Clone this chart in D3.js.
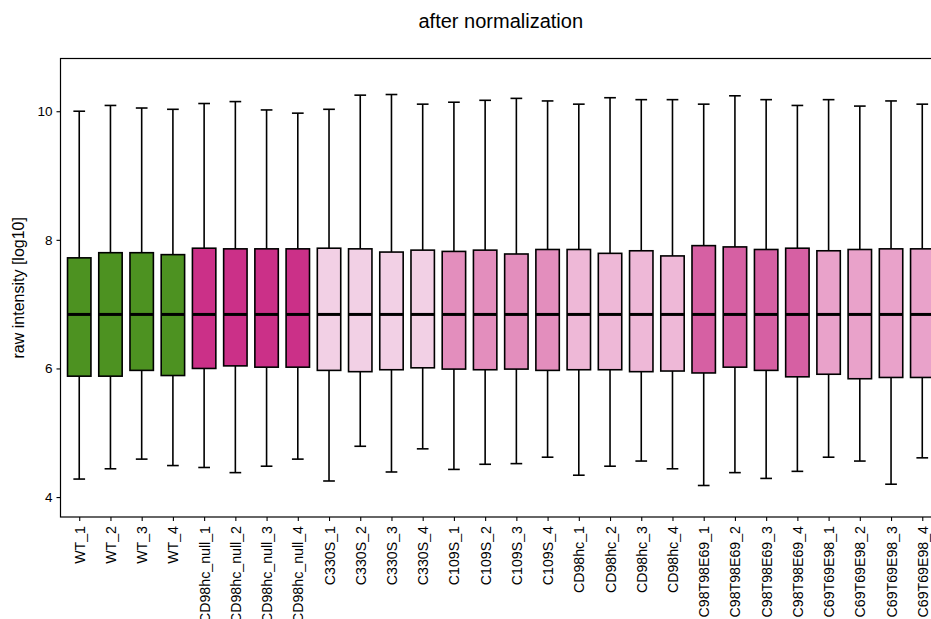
<!DOCTYPE html>
<html>
<head>
<meta charset="utf-8">
<script src="https://cdn.jsdelivr.net/npm/d3@7"></script>
<style>
  html, body { margin: 0; padding: 0; background: #fff; overflow: hidden; }
  svg { display: block; font-family: "Liberation Sans", Arial, Helvetica, sans-serif; }
</style>
</head>
<body>
<svg id="chart" width="931" height="619"></svg>
<script>
// Samples, in plotting order
const samples = [
  "WT_1","WT_2","WT_3","WT_4",
  "CD98hc_null_1","CD98hc_null_2","CD98hc_null_3","CD98hc_null_4",
  "C330S_1","C330S_2","C330S_3","C330S_4",
  "C109S_1","C109S_2","C109S_3","C109S_4",
  "CD98hc_1","CD98hc_2","CD98hc_3","CD98hc_4",
  "C98T98E69_1","C98T98E69_2","C98T98E69_3","C98T98E69_4",
  "C69T69E98_1","C69T69E98_2","C69T69E98_3","C69T69E98_4"
];
// Group of each sample (sets fill colour)
const groups = [
  "WT","WT","WT","WT",
  "CD98hc_null","CD98hc_null","CD98hc_null","CD98hc_null",
  "C330S","C330S","C330S","C330S",
  "C109S","C109S","C109S","C109S",
  "CD98hc","CD98hc","CD98hc","CD98hc",
  "C98T98E69","C98T98E69","C98T98E69","C98T98E69",
  "C69T69E98","C69T69E98","C69T69E98","C69T69E98"
];
// Box statistics (log10 intensity)
const whiskerHigh = [10.00,10.09,10.05,10.03, 10.12,10.15,10.02,9.97, 10.03,10.25,10.26,10.11, 10.14,10.17,10.20,10.16, 10.11,10.21,10.18,10.18, 10.11,10.24,10.18,10.09, 10.18,10.08,10.16,10.11];
const q3 =          [7.72,7.80,7.80,7.77, 7.87,7.86,7.86,7.86, 7.87,7.86,7.81,7.84, 7.82,7.84,7.78,7.85, 7.85,7.79,7.83,7.75, 7.91,7.89,7.85,7.87, 7.83,7.85,7.86,7.86];
const median =      [6.84,6.84,6.84,6.84, 6.84,6.84,6.84,6.84, 6.84,6.84,6.84,6.84, 6.84,6.84,6.84,6.84, 6.84,6.84,6.84,6.84, 6.84,6.84,6.84,6.84, 6.84,6.84,6.84,6.84];
const q1 =          [5.88,5.88,5.97,5.89, 6.00,6.04,6.02,6.02, 5.97,5.95,5.98,6.01, 5.99,5.98,5.99,5.97, 5.98,5.98,5.95,5.96, 5.93,6.02,5.97,5.87, 5.91,5.84,5.86,5.86];
const whiskerLow =  [4.28,4.44,4.59,4.49, 4.46,4.38,4.48,4.59, 4.25,4.79,4.39,4.75, 4.43,4.51,4.52,4.62, 4.34,4.48,4.56,4.44, 4.18,4.38,4.29,4.40, 4.62,4.56,4.20,4.61];
const yTicks = [4, 6, 8, 10];
const groupNames  = ["WT","CD98hc_null","C330S","C109S","CD98hc","C98T98E69","C69T69E98"];
const groupColors = ["#4d9221","#cb3088","#f2d0e5","#e38ebd","#eeb8d7","#d660a3","#e9a2ca"];

const svg = d3.select("#chart");
const panel = { left: 60.5, right: 941, top: 58.5, bottom: 517 };

// ggplot-style spacing: 0.6 of a step on each side, box width 0.75 of a step
const step = (panel.right - panel.left) / (samples.length - 1 + 1.2);
const xc = d3.scalePoint()
  .domain(samples)
  .range([panel.left + 0.6 * step, panel.right - 0.6 * step]);
const boxW = 0.75 * step;

const y = d3.scaleLinear().domain([3.69, 10.82]).range([panel.bottom, panel.top]);
const color = d3.scaleOrdinal().domain(groupNames).range(groupColors);

const data = samples.map((s, i) => ({
  s, g: groups[i], hi: whiskerHigh[i], q3: q3[i], med: median[i], q1: q1[i], lo: whiskerLow[i]
}));

// Title
svg.append("text")
  .attr("x", (panel.left + panel.right) / 2)
  .attr("y", 28)
  .attr("text-anchor", "middle")
  .attr("font-size", 20)
  .attr("fill", "#000")
  .text("after normalization");

const plot = svg.append("g");

const box = plot.selectAll("g.box").data(data).join("g").attr("class", "box");

// upper whisker + cap
box.append("line")
  .attr("x1", d => xc(d.s)).attr("x2", d => xc(d.s))
  .attr("y1", d => y(d.hi)).attr("y2", d => y(d.q3))
  .attr("stroke", "#000").attr("stroke-width", 1.6);
box.append("line")
  .attr("x1", d => xc(d.s) - boxW / 4).attr("x2", d => xc(d.s) + boxW / 4)
  .attr("y1", d => y(d.hi)).attr("y2", d => y(d.hi))
  .attr("stroke", "#000").attr("stroke-width", 1.6);
// lower whisker + cap
box.append("line")
  .attr("x1", d => xc(d.s)).attr("x2", d => xc(d.s))
  .attr("y1", d => y(d.q1)).attr("y2", d => y(d.lo))
  .attr("stroke", "#000").attr("stroke-width", 1.6);
box.append("line")
  .attr("x1", d => xc(d.s) - boxW / 4).attr("x2", d => xc(d.s) + boxW / 4)
  .attr("y1", d => y(d.lo)).attr("y2", d => y(d.lo))
  .attr("stroke", "#000").attr("stroke-width", 1.6);
// box
box.append("rect")
  .attr("x", d => xc(d.s) - boxW / 2)
  .attr("width", boxW)
  .attr("y", d => y(d.q3))
  .attr("height", d => y(d.q1) - y(d.q3))
  .attr("fill", d => color(d.g))
  .attr("stroke", "#000").attr("stroke-width", 1.6);
// median
box.append("line")
  .attr("x1", d => xc(d.s) - boxW / 2).attr("x2", d => xc(d.s) + boxW / 2)
  .attr("y1", d => y(d.med)).attr("y2", d => y(d.med))
  .attr("stroke", "#000").attr("stroke-width", 3);

// Panel border
svg.append("rect")
  .attr("x", panel.left).attr("y", panel.top)
  .attr("width", panel.right - panel.left).attr("height", panel.bottom - panel.top)
  .attr("fill", "none").attr("stroke", "#000").attr("stroke-width", 1.2);

// Y axis
const yAxis = svg.append("g")
  .attr("transform", `translate(${panel.left},0)`)
  .call(d3.axisLeft(y).tickValues(yTicks).tickSize(4).tickPadding(4).tickFormat(d3.format("d")));
yAxis.select(".domain").remove();
yAxis.selectAll(".tick line").attr("stroke", "#000").attr("stroke-width", 1.1);
yAxis.selectAll(".tick text").attr("font-size", 13.5).attr("fill", "#000")
  .attr("font-family", "'Liberation Sans', Arial, sans-serif");

// X axis
const xAxis = svg.append("g")
  .attr("transform", `translate(0,${panel.bottom})`)
  .call(d3.axisBottom(xc).tickSize(4).tickPadding(3));
xAxis.select(".domain").remove();
xAxis.selectAll(".tick line").attr("stroke", "#000").attr("stroke-width", 1.1);
xAxis.selectAll(".tick text")
  .attr("font-size", 14.2).attr("fill", "#000")
  .attr("font-family", "'Liberation Sans', Arial, sans-serif")
  .attr("text-anchor", "end")
  .attr("dy", "0.35em")
  .attr("transform", "translate(0,9) rotate(-90)")
  .attr("x", 0).attr("y", 0);

// Y axis title
svg.append("text")
  .attr("transform", `translate(24,${(panel.top + panel.bottom) / 2}) rotate(-90)`)
  .attr("text-anchor", "middle")
  .attr("font-size", 16)
  .attr("fill", "#000")
  .text("raw intensity [log10]");
</script>
</body>
</html>
